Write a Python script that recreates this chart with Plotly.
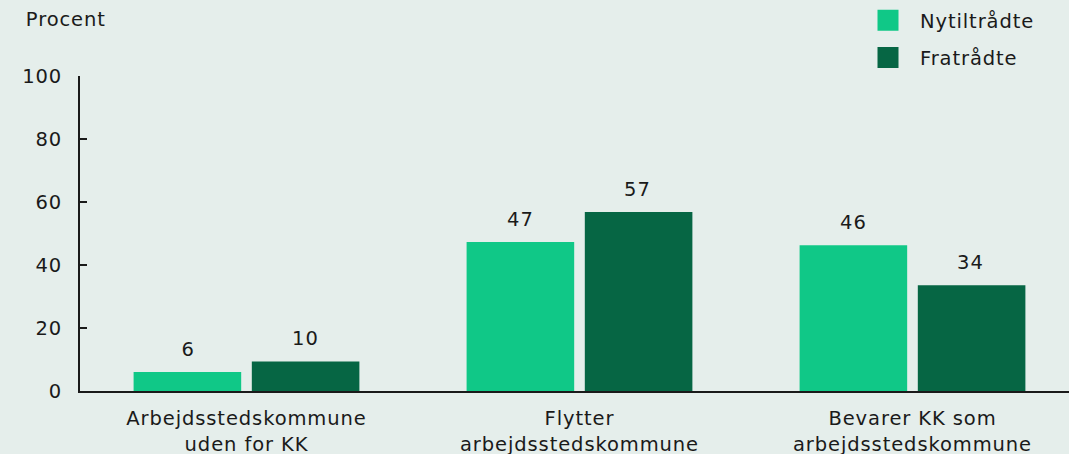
import plotly.graph_objects as go

categories = ["Arbejdsstedskommune<br>uden for KK", "Flytter<br>arbejdsstedskommune", "Bevarer KK som<br>arbejdsstedskommune"]
nytiltraadte = [6.0, 47.3, 46.3]
fratraadte = [9.4, 56.8, 33.6]
nytiltraadte_labels = ["6", "47", "46"]
fratraadte_labels = ["10", "57", "34"]
series_names = ["Nytiltrådte", "Fratrådte"]
colors = ["#10C887", "#066644"]
y_ticks = [0, 20, 40, 60, 80, 100]

BG = "#E5EEEB"
INK = "#1A1A1A"
FONT = dict(family="DejaVu Sans", size=19.5, color=INK)

fig = go.Figure()
series = [
    (series_names[0], nytiltraadte, nytiltraadte_labels, colors[0], -58.5),
    (series_names[1], fratraadte, fratraadte_labels, colors[1], 58.5),
]
for i, (name, vals, labels, col, shift) in enumerate(series):
    fig.add_trace(go.Bar(
        x=categories, y=vals, name=name, marker=dict(color=col, line=dict(width=0)),
        showlegend=False, hoverinfo="x+y",
    ))
    fig.add_trace(go.Scatter(
        x=[None], y=[None], mode="markers", name=name + "\u00a0\u00a0", legendgroup=f"g{i}",
        marker=dict(symbol="square", size=17, color=col, line=dict(color=col, width=7)),
    ))
    for cat, v, lab in zip(categories, vals, labels):
        fig.add_annotation(x=cat, y=v, text=lab, showarrow=False, xshift=shift,
                           yshift=23, yanchor="middle", font=FONT)

fig.add_annotation(text="Procent", xref="paper", yref="paper", x=-80/989, y=1 + 56/315,
                   xanchor="left", yanchor="middle", showarrow=False, xshift=27, font=FONT)

fig.update_layout(
    width=1069, height=454,
    paper_bgcolor=BG, plot_bgcolor=BG,
    font=FONT,
    margin=dict(l=80, r=0, t=76, b=63, autoexpand=False),
    barmode="group", bargap=0.29, bargroupgap=0.09,
    legend=dict(x=(856 - 80) / 989, xanchor="left", y=1 + 75/315, yanchor="top",
                bgcolor="rgba(0,0,0,0)", font=FONT, itemwidth=54, tracegroupgap=9),
    xaxis=dict(range=[-0.5, 2.47], showline=True, linecolor=INK, linewidth=2,
               ticks="", showgrid=False, tickfont=FONT, ticklabelstandoff=9,
               automargin=False),
    yaxis=dict(range=[0, 100], tickvals=y_ticks, showline=True,
               linecolor=INK, linewidth=2, ticks="inside", ticklen=7, tickwidth=2,
               tickcolor=INK, showgrid=False, zeroline=False, tickfont=FONT,
               ticklabelstandoff=12, automargin=False),
)

post = (
    "document.body.style.margin='0';"
    "var st=document.createElement('style');"
    "st.innerHTML='.js-plotly-plot svg text{letter-spacing:0.9px}';"
    "document.head.appendChild(st);"
)
fig.write_html("out.html", post_script=post, config={"displayModeBar": False})
